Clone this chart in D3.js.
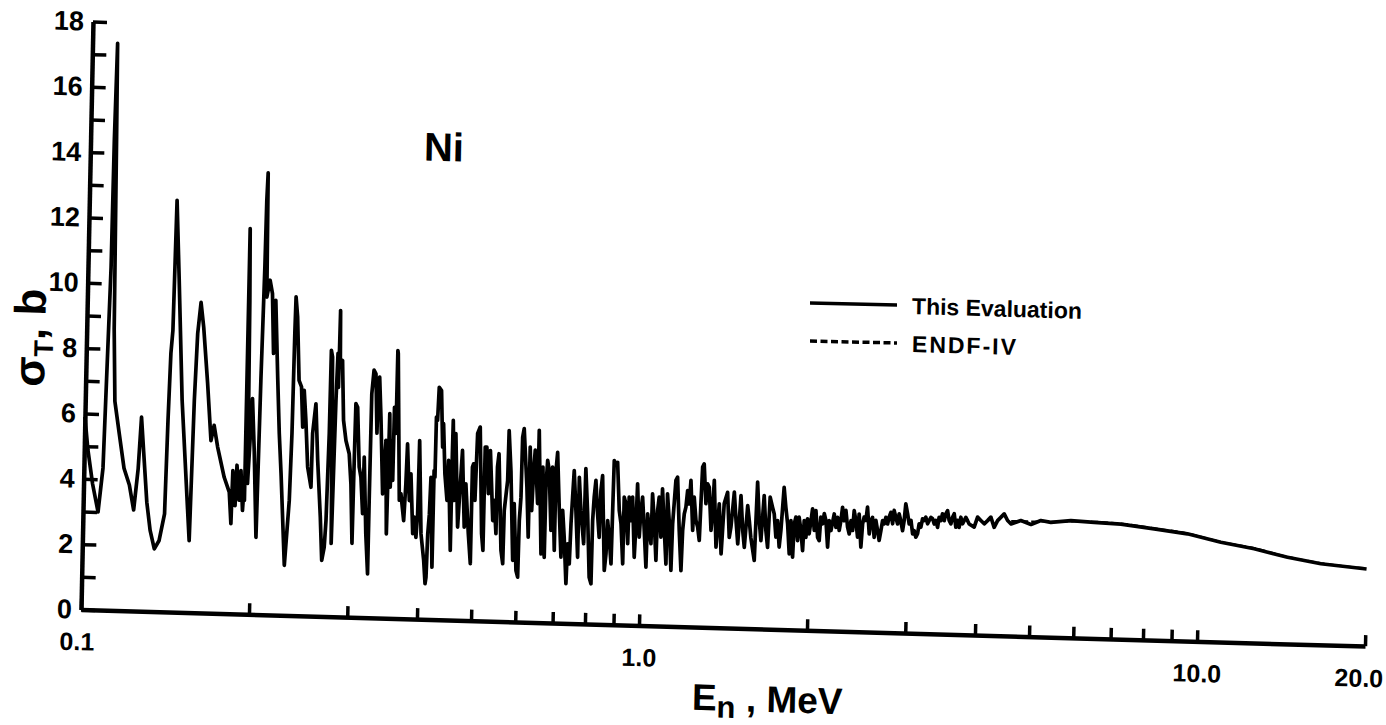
<!DOCTYPE html>
<html>
<head>
<meta charset="utf-8">
<script src="https://cdn.jsdelivr.net/npm/d3@7"></script>
<style>
body { margin: 0; background: #fff; }
</style>
</head>
<body>
<div id="chart"></div>
<script>
// [energy MeV, total cross section b]
var lowResonances = [
    [0.1000, 5.90], [0.1015, 4.90], [0.1038, 3.85], [0.1064, 3.00], [0.1082, 4.35], [0.1100, 10.5],
    [0.1103, 14.4], [0.1109, 17.35], [0.1113, 14.5], [0.1120, 8.60], [0.1130, 6.40], [0.1154, 5.40],
    [0.1180, 4.36], [0.1208, 3.85], [0.1232, 3.09], [0.1251, 4.36], [0.1263, 5.94], [0.1278, 4.87],
    [0.1300, 3.34], [0.1321, 2.48], [0.1346, 1.92], [0.1372, 2.18], [0.1400, 3.00], [0.1409, 5.86],
    [0.1418, 7.92], [0.1427, 8.62], [0.1436, 12.6], [0.1458, 10.2], [0.1491, 6.49], [0.1526, 4.04],
    [0.1553, 2.20], [0.1568, 6.50], [0.1581, 8.55], [0.1599, 9.50], [0.1620, 8.74], [0.1654, 7.03],
    [0.1685, 5.28], [0.1705, 5.75], [0.1733, 5.09], [0.1785, 4.17], [0.1825, 3.72], [0.1842, 2.76],
    [0.1849, 4.38], [0.1871, 3.31], [0.1880, 4.55], [0.1901, 3.48], [0.1912, 4.39], [0.1930, 3.17],
    [0.1940, 3.94], [0.1944, 3.48], [0.1946, 11.8], [0.1955, 9.60], [0.1962, 6.55], [0.1966, 4.00],
    [0.1993, 6.60], [0.2016, 5.00], [0.2045, 2.36], [0.2060, 7.27], [0.2074, 10.64], [0.2079, 12.68],
    [0.2086, 13.52], [0.2096, 9.72], [0.2122, 10.24], [0.2145, 9.83], [0.2165, 8.00], [0.2176, 9.63],
    [0.2207, 7.28], [0.2232, 5.56], [0.2256, 4.33], [0.2304, 1.53]
];

var midResonances = [
    [0.2339, 3.52], [0.2352, 5.57], [0.2360, 8.64], [0.2365, 9.75], [0.2384, 9.14], [0.2411, 7.20],
    [0.2437, 7.00], [0.2457, 5.77], [0.2465, 6.90], [0.2488, 5.99], [0.2516, 4.56], [0.2555, 3.94],
    [0.2561, 5.59], [0.2590, 6.50], [0.2621, 4.77], [0.2662, 3.04], [0.2687, 1.71], [0.2712, 2.12],
    [0.2726, 2.93], [0.2743, 5.60], [0.2748, 8.15], [0.2763, 7.94], [0.2790, 2.24], [0.2812, 6.62],
    [0.2825, 8.06], [0.2838, 7.02], [0.2845, 9.37], [0.2855, 7.65], [0.2880, 7.85], [0.2906, 6.02],
    [0.2940, 5.40], [0.2983, 5.00], [0.3012, 4.08], [0.3040, 2.26], [0.3045, 4.09], [0.3054, 6.54],
    [0.3077, 6.43], [0.3112, 4.60], [0.3137, 4.29], [0.3168, 3.18], [0.3175, 4.91], [0.3216, 2.56],
    [0.3250, 1.34], [0.3252, 3.59], [0.3258, 6.85], [0.3282, 7.58], [0.3309, 7.47], [0.3339, 5.65],
    [0.3344, 7.06], [0.3361, 7.37], [0.3390, 6.15], [0.3435, 3.80], [0.3451, 4.62], [0.3468, 5.44],
    [0.3500, 2.58], [0.3515, 6.26], [0.3543, 4.01], [0.3550, 5.44], [0.3577, 4.22], [0.3582, 6.46],
    [0.3611, 5.66], [0.3615, 8.20], [0.3622, 8.11], [0.3682, 3.62], [0.3705, 3.82], [0.3755, 3.00],
    [0.3778, 4.13], [0.3792, 5.35], [0.3837, 3.62], [0.3855, 4.44], [0.3902, 2.61], [0.3921, 3.12],
    [0.3955, 2.50], [0.3976, 3.22], [0.3985, 5.46], [0.4038, 2.61], [0.4092, 1.80], [0.4123, 1.09],
    [0.4137, 1.29], [0.4152, 2.61], [0.4173, 3.22], [0.4188, 4.35], [0.4236, 1.60], [0.4240, 4.56],
    [0.4257, 4.36], [0.4262, 6.20], [0.4283, 6.10], [0.4301, 7.11], [0.4343, 7.01], [0.4383, 5.28],
    [0.4392, 6.00], [0.4434, 4.47], [0.4482, 3.66], [0.4498, 4.88], [0.4562, 2.13], [0.4565, 5.09],
    [0.4570, 6.11], [0.4619, 3.66], [0.4624, 5.71], [0.4693, 2.85], [0.4724, 3.97], [0.4759, 5.20],
    [0.4823, 2.85], [0.4839, 4.18], [0.4908, 2.66], [0.4961, 1.74], [0.4965, 4.70], [0.4987, 4.80],
    [0.5030, 3.68], [0.5058, 5.73], [0.5110, 5.93], [0.5184, 2.67], [0.5220, 2.16], [0.5225, 5.32],
    [0.5261, 5.32], [0.5314, 3.90], [0.5340, 5.22], [0.5422, 3.08], [0.5447, 3.70], [0.5500, 2.68],
    [0.5505, 4.72], [0.5534, 5.13], [0.5623, 2.18]
];

var highResonances = [
    [0.5670, 1.77], [0.5681, 3.40], [0.5747, 4.32], [0.5759, 5.85], [0.5821, 4.62], [0.5906, 1.88],
    [0.5916, 3.62], [0.5992, 1.57], [0.6037, 1.37], [0.6050, 3.10], [0.6080, 3.82], [0.6092, 5.65],
    [0.6127, 5.92], [0.6226, 4.13], [0.6285, 2.60], [0.6290, 5.36], [0.6361, 3.42], [0.6393, 4.64],
    [0.6424, 5.27], [0.6515, 3.64], [0.6520, 5.88], [0.6634, 2.10], [0.6640, 4.76], [0.6725, 2.00],
    [0.6733, 4.14], [0.6767, 4.97], [0.6817, 4.66], [0.6898, 2.83], [0.6910, 4.77], [0.7006, 2.22],
    [0.7010, 4.67], [0.7047, 5.22], [0.7129, 3.45], [0.7205, 2.02], [0.7229, 3.45], [0.7291, 2.63],
    [0.7371, 1.21], [0.7399, 2.43], [0.7461, 1.82], [0.7490, 3.05], [0.7523, 3.87], [0.7557, 4.68],
    [0.7635, 3.46], [0.7718, 2.03], [0.7722, 4.48], [0.7794, 3.46], [0.7904, 2.45], [0.7927, 4.75],
    [0.8015, 3.37], [0.8108, 1.43], [0.8173, 1.23], [0.8187, 3.17], [0.8224, 3.89], [0.8271, 4.40],
    [0.8350, 3.38], [0.8422, 2.66], [0.8450, 4.09], [0.8499, 4.55], [0.8624, 1.65], [0.8674, 2.16],
    [0.8710, 3.18], [0.8779, 2.67], [0.8862, 1.86], [0.8884, 3.49], [0.8906, 5.02], [0.8969, 4.92],
    [0.9032, 4.97], [0.9129, 3.50], [0.9206, 3.09], [0.9300, 1.87], [0.9308, 3.91], [0.9377, 3.71],
    [0.9478, 2.49], [0.9501, 3.92], [0.9588, 3.20], [0.9636, 3.92], [0.9748, 2.08], [0.9792, 3.10],
    [0.9825, 4.33], [0.9934, 2.70], [0.9984, 3.52], [1.0041, 3.93], [1.0137, 2.91], [1.0238, 1.79],
    [1.0267, 3.42], [1.0348, 2.91], [1.0433, 2.51], [1.0459, 4.04], [1.0555, 3.22], [1.0663, 2.00],
    [1.0694, 3.53], [1.0751, 3.94], [1.0862, 2.72], [1.0893, 4.20], [1.1002, 3.03], [1.1116, 1.90],
    [1.1125, 4.05], [1.1226, 3.24], [1.1352, 1.71], [1.1390, 3.14], [1.1442, 3.75], [1.1503, 4.47],
    [1.1580, 4.57], [1.1710, 2.94], [1.1832, 1.71], [1.1876, 2.94], [1.1940, 3.45], [1.2014, 3.66],
    [1.2084, 4.17], [1.2174, 3.76], [1.2240, 4.48], [1.2377, 2.95], [1.2423, 3.97], [1.2536, 3.26],
    [1.2630, 3.06], [1.2729, 2.65], [1.2777, 3.77], [1.2829, 4.90], [1.2909, 5.00], [1.3043, 3.78],
    [1.3114, 4.39], [1.3206, 4.29], [1.3349, 2.97], [1.3421, 3.58], [1.3477, 4.50], [1.3645, 2.46],
    [1.3718, 3.18], [1.3781, 3.79], [1.3943, 2.26]
];

var fluctuations = [
    [1.4066, 3.80], [1.4252, 4.15], [1.4400, 2.77], [1.4489, 3.09], [1.4651, 4.16], [1.4790, 3.29],
    [1.4922, 2.58], [1.5063, 4.06], [1.5216, 2.99], [1.5335, 2.48], [1.5500, 3.76], [1.5621, 3.30],
    [1.5740, 2.79], [1.5995, 2.09], [1.6055, 3.31], [1.6115, 4.49], [1.6275, 3.31], [1.6413, 2.70],
    [1.6577, 4.08], [1.6741, 3.01], [1.6880, 2.50], [1.6992, 4.04], [1.7175, 3.73], [1.7303, 3.53],
    [1.7454, 2.82], [1.7553, 3.33], [1.7705, 2.52], [1.7810, 3.03], [1.7986, 4.35], [1.8143, 3.74],
    [1.8302, 3.23], [1.8467, 2.32], [1.8547, 3.34], [1.8729, 2.22], [1.8807, 3.24], [1.8924, 3.45],
    [1.9095, 2.73], [1.9180, 3.45], [1.9340, 3.05], [1.9508, 2.43], [1.9590, 3.35], [1.9754, 2.84],
    [1.9858, 3.41], [2.0015, 2.95], [2.0150, 3.36], [2.0260, 3.72], [2.0436, 3.06], [2.0545, 3.67],
    [2.0731, 2.85], [2.0874, 2.75], [2.0975, 3.47], [2.1149, 3.27], [2.1271, 3.58], [2.1428, 3.37],
    [2.1621, 2.56], [2.1718, 3.37], [2.1890, 3.07], [2.2164, 3.58], [2.2337, 3.17], [2.2474, 3.48],
    [2.2650, 3.08], [2.2791, 3.38], [2.2924, 3.79], [2.3104, 3.38], [2.3248, 3.70], [2.3440, 3.19],
    [2.3613, 2.98], [2.3760, 3.39], [2.3936, 3.09], [2.4055, 3.70], [2.4243, 3.40], [2.4443, 2.89],
    [2.4562, 3.60], [2.4800, 2.59], [2.4933, 3.30], [2.5077, 3.51], [2.5265, 3.41], [2.5409, 3.82],
    [2.5642, 3.00], [2.5790, 3.41], [2.5960, 3.51], [2.6176, 2.90], [2.6326, 3.42], [2.6533, 3.11],
    [2.6727, 2.81], [2.6900, 3.11], [2.7067, 3.42], [2.7258, 3.32], [2.7427, 3.52], [2.7642, 3.32],
    [2.7798, 3.53], [2.7990, 3.68], [2.8215, 3.33], [2.8366, 3.74], [2.8579, 3.53], [2.8803, 3.33],
    [2.8966, 3.64], [2.9165, 3.44], [2.9414, 3.13], [2.9587, 3.44], [2.9745, 3.95], [2.9993, 3.65],
    [3.0212, 3.34], [3.0430, 3.45], [3.0665, 3.04], [3.0857, 3.14], [3.1085, 2.94], [3.1302, 3.05],
    [3.1481, 3.35], [3.1710, 3.25], [3.1917, 3.51], [3.2129, 3.46], [3.2342, 3.56], [3.2596, 3.36],
    [3.2796, 3.46], [3.3030, 3.56], [3.3265, 3.52], [3.3500, 3.36], [3.3721, 3.47], [3.3972, 3.26],
    [3.4164, 3.57], [3.4420, 3.47], [3.4636, 3.68], [3.4894, 3.47], [3.5111, 3.68], [3.5356, 3.78],
    [3.5614, 3.48], [3.5885, 3.38], [3.6108, 3.58], [3.6348, 3.69], [3.6632, 3.28], [3.6873, 3.49],
    [3.7128, 3.28], [3.7365, 3.59], [3.7642, 3.39], [3.7893, 3.49], [3.8143, 3.59], [3.8428, 3.49],
    [3.8693, 3.39], [3.9509, 3.30], [4.0035, 3.61], [4.0590, 3.51], [4.1170, 3.41], [4.1735, 3.51],
    [4.2290, 3.62], [4.2903, 3.31], [4.3492, 3.52], [4.4060, 3.62], [4.4672, 3.73], [4.5320, 3.53],
    [4.5980, 3.43]
];

var smoothRegion = [
    [4.787, 3.54], [4.993, 3.43], [5.199, 3.56], [5.418, 3.51], [5.884, 3.58], [6.478, 3.55],
    [7.234, 3.52], [8.302, 3.40], [9.525, 3.28], [10.94, 3.05], [12.56, 2.88], [14.42, 2.65],
    [16.56, 2.48], [20.0, 2.36]
];

var endfEnergy = [4.6, 5.4, 6.4, 7.2, 8.3, 9.5, 10.9, 12.6, 14.4, 16.6, 20.0];
var endfSigma = [3.52, 3.53, 3.57, 3.54, 3.42, 3.30, 3.07, 2.90, 2.67, 2.50, 2.38];

var yTickValues = d3.range(0, 19);
var xTickValues = [0.1, 0.2, 0.3, 0.4, 0.5, 0.6, 0.7, 0.8, 0.9, 1, 2, 3, 4, 5, 6, 7, 8, 9, 10, 20];
var xLabelValues = [0.1, 1, 10, 20];
var xLabelText = ['0.1', '1.0', '10.0', '20.0'];
var legendNames = ['This Evaluation', 'ENDF-IV'];


(function () {
    'use strict';
    var width, height, plotW, plotH, skewB, skewC, ox, oy, svg, frame, x, y,
        yAxis, xAxis, gy, gx, line, evaluation, endf, p, t, font;

    width = 1386;
    height = 725;
    plotW = 1284;
    plotH = 588;
    // the scanned figure is slightly rotated: keep it in a tilted frame
    skewB = 0.0285;
    skewC = -0.0204;
    ox = 81;
    oy = 609.5;
    font = '"Liberation Sans", Arial, sans-serif';

    function toLocal(X, Y) {
        var v, u;
        v = (Y - oy - skewB * (X - ox)) / (1 - skewB * skewC);
        u = X - ox - skewC * v;
        return [u, v];
    }

    svg = d3.select('#chart').append('svg')
        .attr('width', width)
        .attr('height', height)
        .style('background', '#fff');

    frame = svg.append('g')
        .attr('transform', 'matrix(1,' + skewB + ',' + skewC + ',1,' + ox + ',' + oy + ')');

    x = d3.scaleLog().domain([0.1, 20]).range([0, plotW]);
    y = d3.scaleLinear().domain([0, 18]).range([0, -plotH]);

    // Axes
    yAxis = d3.axisLeft(y)
        .tickValues(yTickValues)
        .tickSizeInner(-14)
        .tickSizeOuter(0)
        .tickPadding(9)
        .tickFormat(function (d) { return d % 2 === 0 ? d : ''; });
    gy = frame.append('g').call(yAxis);

    xAxis = d3.axisBottom(x)
        .tickValues(xTickValues)
        .tickSizeInner(-11)
        .tickSizeOuter(0)
        .tickPadding(23)
        .tickFormat(function (d) {
            var i = xLabelValues.indexOf(d);
            return i < 0 ? '' : xLabelText[i];
        });
    gx = frame.append('g').call(xAxis);

    [gx, gy].forEach(function (g) {
        g.attr('font-family', font).attr('font-weight', 'bold');
        g.select('.domain').attr('stroke', '#000').attr('stroke-width', 4.5);
        g.selectAll('.tick line').attr('stroke', '#000').attr('stroke-width', 3.5);
        g.selectAll('.tick text').attr('fill', '#000');
    });
    gy.attr('font-size', 27);
    gx.attr('font-size', 25);
    gx.selectAll('.tick text').attr('dx', function (d) { return d === 20 ? -6 : (d === 0.1 ? -4 : 0); });

    // Curves
    line = d3.line()
        .x(function (d) { return x(d[0]); })
        .y(function (d) { return y(d[1]); });

    evaluation = lowResonances.concat(midResonances, highResonances, fluctuations, smoothRegion);
    endf = endfEnergy.map(function (e, i) { return [e, endfSigma[i]]; });

    frame.append('path')
        .datum(evaluation)
        .attr('d', line.curve(d3.curveLinear))
        .attr('fill', 'none')
        .attr('stroke', '#000')
        .attr('stroke-width', 3.7)
        .attr('stroke-linejoin', 'round');

    frame.append('path')
        .datum(endf)
        .attr('d', line.curve(d3.curveMonotoneX))
        .attr('fill', 'none')
        .attr('stroke', '#000')
        .attr('stroke-width', 2)
        .attr('stroke-dasharray', '7,3');

    // Legend
    [[303, 'none'], [341, '7,3.5']].forEach(function (row, i) {
        var a, b;
        a = toLocal(810, row[0]);
        b = toLocal(897, row[0] + 2);
        frame.append('line')
            .attr('x1', a[0]).attr('y1', a[1])
            .attr('x2', b[0]).attr('y2', b[1])
            .attr('stroke', '#000')
            .attr('stroke-width', 3.5)
            .attr('stroke-dasharray', row[1]);
        p = toLocal(912, row[0] + 3);
        frame.append('text')
            .attr('x', p[0])
            .attr('y', p[1])
            .attr('dy', '0.35em')
            .attr('font-family', font)
            .attr('font-weight', 'bold')
            .attr('font-size', 23)
            .attr('letter-spacing', i === 1 ? 2 : 0)
            .text(legendNames[i]);
    });

    // Labels
    p = toLocal(444, 147);
    frame.append('text')
        .attr('x', p[0])
        .attr('y', p[1])
        .attr('dy', '0.35em')
        .attr('text-anchor', 'middle')
        .attr('font-family', font)
        .attr('font-weight', 'bold')
        .attr('font-size', 40)
        .text('Ni');

    p = toLocal(767, 712);
    t = frame.append('text')
        .attr('x', p[0])
        .attr('y', p[1])
        .attr('text-anchor', 'middle')
        .attr('font-family', font)
        .attr('font-weight', 'bold')
        .attr('font-size', 37);
    t.append('tspan').text('E');
    t.append('tspan').attr('dy', 7).attr('font-size', 31).text('n');
    t.append('tspan').attr('dy', -7).text(' , MeV');

    p = toLocal(45, 338);
    t = frame.append('text')
        .attr('transform', 'translate(' + p[0] + ',' + p[1] + ') rotate(-90)')
        .attr('text-anchor', 'middle')
        .attr('font-family', font)
        .attr('font-weight', 'bold')
        .attr('font-size', 44);
    t.append('tspan').text('σ');
    t.append('tspan').attr('dy', 8).attr('font-size', 27).text('T');
    t.append('tspan').attr('dy', -8).text(', b');
}());
</script>
</body>
</html>
